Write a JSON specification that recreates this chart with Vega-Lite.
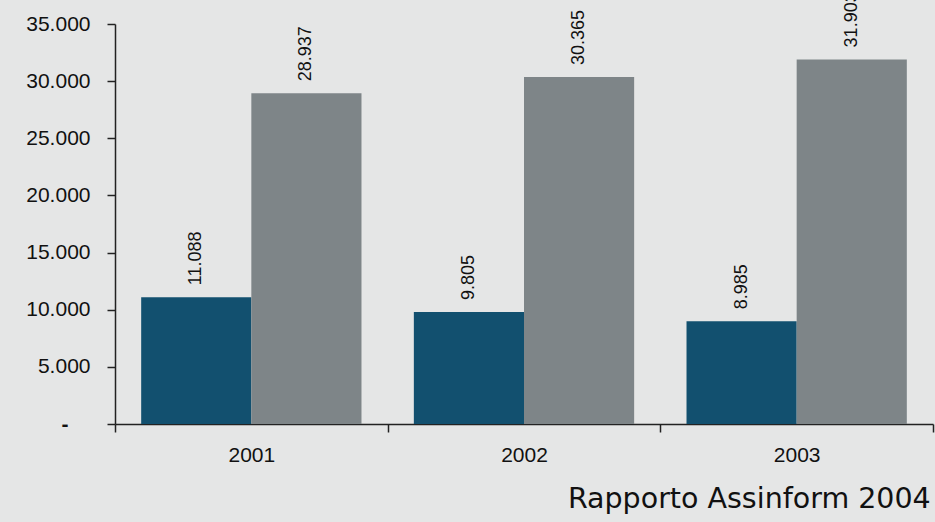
{
  "$schema": "https://vega.github.io/schema/vega-lite/v6.json",
  "width": 818,
  "height": 400,
  "autosize": {"type": "none"},
  "padding": {"left": 115, "top": 24, "right": 2, "bottom": 98},
  "background": "#e5e6e6",
  "config": {
    "view": {"stroke": null},
    "locale": {"number": {"decimal": ",", "thousands": ".", "grouping": [3], "currency": ["", " €"]}}
  },
  "title": {
    "text": "Rapporto Assinform 2004",
    "orient": "bottom",
    "anchor": "end",
    "font": "DejaVu Sans",
    "fontSize": 28.5,
    "fontWeight": "normal",
    "color": "#111111",
    "offset": 20,
    "dx": -3
  },
  "data": {
    "values": [
      {"anno": "2001", "serie": "A", "valore": 11088},
      {"anno": "2001", "serie": "B", "valore": 28937},
      {"anno": "2002", "serie": "A", "valore": 9805},
      {"anno": "2002", "serie": "B", "valore": 30365},
      {"anno": "2003", "serie": "A", "valore": 8985},
      {"anno": "2003", "serie": "B", "valore": 31903}
    ]
  },
  "encoding": {
    "x": {
      "field": "anno",
      "type": "nominal",
      "scale": {"paddingInner": 0, "paddingOuter": 0},
      "axis": {
        "title": null,
        "labelAngle": 0,
        "tickBand": "extent",
        "domainColor": "#222222",
        "domainWidth": 1.5,
        "tickColor": "#222222",
        "tickWidth": 1.5,
        "tickSize": 8,
        "labelPadding": 12,
        "labelFont": "Liberation Sans",
        "labelFontSize": 21,
        "labelColor": "#111111"
      }
    },
    "xOffset": {"field": "serie", "scale": {"paddingOuter": 0.2377, "paddingInner": 0}},
    "y": {
      "field": "valore",
      "type": "quantitative",
      "scale": {"domain": [0, 35000], "nice": false},
      "axis": {
        "title": null,
        "values": [0, 5000, 10000, 15000, 20000, 25000, 30000, 35000],
        "format": ",d",
        "labelExpr": "datum.value == 0 ? '-' : datum.label",
        "grid": false,
        "domainColor": "#222222",
        "domainWidth": 1.5,
        "tickColor": "#222222",
        "tickWidth": 1.5,
        "tickSize": 8,
        "labelPadding": {"condition": {"test": "datum.value == 0", "value": 39}, "value": 17},
        "labelFont": "Liberation Sans",
        "labelFontSize": 21,
        "labelFontWeight": {"condition": {"test": "datum.value == 0", "value": "bold"}, "value": "normal"},
        "labelColor": "#111111"
      }
    }
  },
  "layer": [
    {
      "mark": {"type": "bar"},
      "encoding": {
        "color": {
          "field": "serie",
          "type": "nominal",
          "scale": {"domain": ["A", "B"], "range": ["#12506f", "#7e8588"]},
          "legend": null
        }
      }
    },
    {
      "mark": {
        "type": "text",
        "angle": 270,
        "align": "left",
        "baseline": "middle",
        "dx": 12,
        "font": "Liberation Sans",
        "fontSize": 18,
        "color": "#111111"
      },
      "encoding": {
        "text": {"field": "valore", "type": "quantitative", "format": ",d"}
      }
    }
  ]
}
